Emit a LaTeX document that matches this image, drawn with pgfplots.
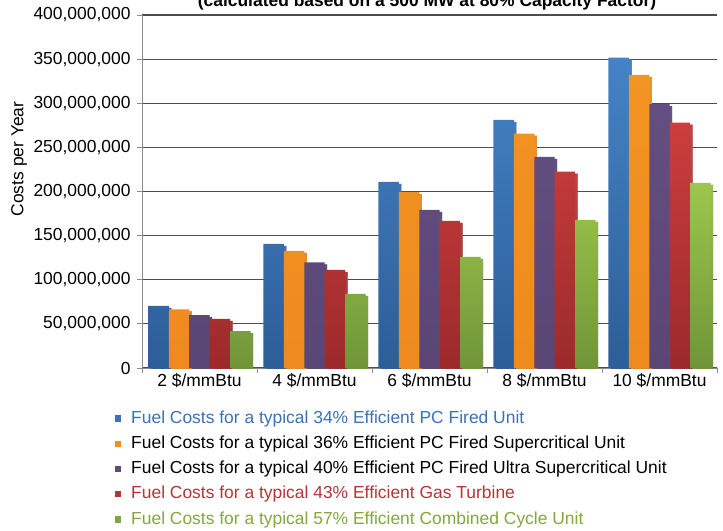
\documentclass[border=0pt]{standalone}
\usepackage{pgfplots}
\pgfplotsset{compat=1.18}
\usepackage{fontspec}
\setmainfont{Liberation Sans}
\usetikzlibrary{shadows}
\definecolor{cBlueT}{HTML}{4583C6}
\definecolor{cBlueB}{HTML}{2C5E98}
\definecolor{cBlue}{HTML}{3A72B5}
\definecolor{cOrT}{HTML}{F39424}
\definecolor{cOrB}{HTML}{EE8A1E}
\definecolor{cOr}{HTML}{F18F21}
\definecolor{cPuT}{HTML}{634E81}
\definecolor{cPuB}{HTML}{5A4675}
\definecolor{cPu}{HTML}{5F4B7B}
\definecolor{cReT}{HTML}{CC3D3D}
\definecolor{cReB}{HTML}{9C2A2B}
\definecolor{cRe}{HTML}{B53436}
\definecolor{cGrT}{HTML}{9DC64D}
\definecolor{cGrB}{HTML}{6F9538}
\definecolor{cGr}{HTML}{80A83E}
\definecolor{gridc}{HTML}{4D4D4D}
\definecolor{axc}{HTML}{8C8C8C}
\newcommand{\fs}{\fontsize{17.5}{21}\selectfont}
\newcommand{\legsq}[1]{\pgfpathrectangle{\pgfpoint{0bp}{-3bp}}{\pgfpoint{6.5bp}{6.5bp}}\pgfsetfillcolor{#1}\pgfusepath{fill}}
\tikzset{barshadow/.style={drop shadow={shadow xshift=2.5bp, shadow yshift=-2bp, fill=gray, opacity=0.9}}}
\begin{document}
\begin{tikzpicture}
\begin{axis}[
  at={(142bp,-15bp)}, anchor=north west,
  scale only axis, width=575bp, height=353bp,
  xmin=-0.5, xmax=4.5, ymin=0, ymax=400000000,
  axis x line*=bottom, axis y line*=left,
  axis line style={axc, line width=1bp},
  ybar=0pt, bar width=0.178,
  xtick={0,1,2,3,4},
  xticklabels={2 \$/mmBtu, 4 \$/mmBtu, 6 \$/mmBtu, 8 \$/mmBtu, 10 \$/mmBtu},
  major x tick style={draw=none},
  minor xtick={-0.5,0.5,1.5,2.5,3.5,4.5},
  minor x tick style={axc, line width=1bp},
  minor tick length=5bp,
  ytick={0,50000000,...,400000000},
  major y tick style={axc, line width=1bp},
  major tick length=5bp,
  tick align=outside,
  ymajorgrids, grid style={gridc, line width=1.1bp},
  scaled y ticks=false,
  yticklabel style={font=\fs, xshift=-3bp},
  xticklabel style={font=\fs, yshift=3bp},
  tick label style={text=black},
  y tick label style={/pgf/number format/.cd, fixed, precision=0, 1000 sep={,}, assume math mode=true},
  legend style={at={(-0.053,-0.111)}, anchor=north west, draw=none, fill=none,
    font=\fs, row sep=6.2bp, column sep=9bp,
    nodes={text height=13bp, text depth=4bp, inner sep=1bp}},
  legend cell align=left,
]
\addplot[draw=none, top color=cBlueT, bottom color=cBlueB, barshadow,
  legend image code/.code={\legsq{cBlue}}]
  coordinates {(0,70300000) (1,140600000) (2,210900000) (3,281200000) (4,351600000)};
\addlegendentry{\color{cBlue}Fuel Costs for a typical 34\% Efficient PC Fired Unit}
\addplot[draw=none, top color=cOrT, bottom color=cOrB, barshadow,
  legend image code/.code={\legsq{cOr}}]
  coordinates {(0,66400000) (1,132800000) (2,199300000) (3,265700000) (4,332100000)};
\addlegendentry{Fuel Costs for a typical 36\% Efficient PC Fired Supercritical Unit}
\addplot[draw=none, top color=cPuT, bottom color=cPuB, barshadow,
  legend image code/.code={\legsq{cPu}}]
  coordinates {(0,59800000) (1,119600000) (2,179300000) (3,239100000) (4,298900000)};
\addlegendentry{Fuel Costs for a typical 40\% Efficient PC Fired Ultra Supercritical Unit}
\addplot[draw=none, top color=cReT, bottom color=cReB, barshadow,
  legend image code/.code={\legsq{cRe}}]
  coordinates {(0,55600000) (1,111200000) (2,166800000) (3,222400000) (4,278000000)};
\addlegendentry{\color{cRe}Fuel Costs for a typical 43\% Efficient Gas Turbine}
\addplot[draw=none, top color=cGrT, bottom color=cGrB, barshadow,
  legend image code/.code={\legsq{cGr}}]
  coordinates {(0,41900000) (1,83900000) (2,125800000) (3,167800000) (4,209700000)};
\addlegendentry{\color{cGr}Fuel Costs for a typical 57\% Efficient Combined Cycle Unit}
\end{axis}
\node[font=\fs, rotate=90] at (19bp,-159bp) {Costs per Year};
\node[font=\fs\bfseries, anchor=base] at (427bp,-6.5bp) {(calculated based on a 500 MW at 80\% Capacity Factor)};
\pgfresetboundingbox
\path[use as bounding box] (0,0) rectangle (723bp,-531bp);
\end{tikzpicture}
\end{document}
